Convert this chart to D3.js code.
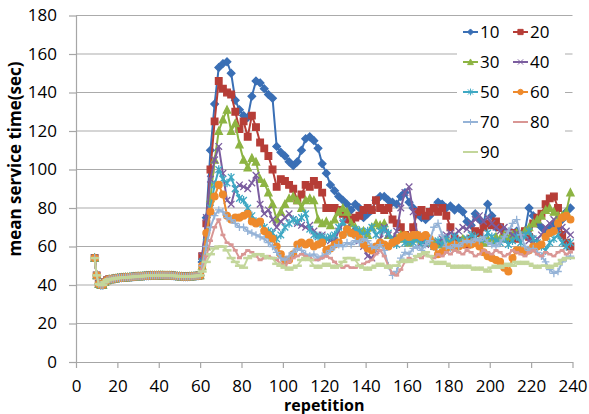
<!DOCTYPE html>
<html>
<head>
<meta charset="utf-8">
<script src="https://cdn.jsdelivr.net/npm/d3@7"></script>
<style>
  body { margin: 0; background: #fff; }
  text { font-family: "Open Sans", sans-serif; }
</style>
</head>
<body>
<div class="graph"></div>
<script>
// tick labels
const xTicks = [0, 20, 40, 60, 80, 100, 120, 140, 160, 180, 200, 220, 240]
const yTicks = [0, 20, 40, 60, 80, 100, 120, 140, 160, 180]

// reps 9..60 are the same for every series, after that every 2nd rep
const warmReps = d3.range(9, 61)
const runReps = d3.range(61, 240, 2)

const warmup = [54, 45, 40.5, 40, 40, 41.5, 42.5, 43, 43, 43.2, 43.4, 43.6, 43.7, 43.8, 43.9, 44, 44, 44.1,
  44.2, 44.3, 44.4, 44.5, 44.5, 44.6, 44.7, 44.8, 44.8, 44.9, 45, 45, 45, 45.1, 45.1, 45.1, 45, 45, 45, 44.9,
  44.8, 44.7, 44.6, 44.5, 44.4, 44.3, 44.3, 44.3, 44.4, 44.5, 44.6, 44.7, 44.8, 45]

const s10 = [52, 75, 110, 134, 153, 155, 156, 150, 136, 131,
  128, 127, 138, 146, 145, 142, 139, 137, 112, 109,
  107, 104, 102, 104, 110, 116, 117, 115, 111, 103,
  98, 92, 89, 86, 84, 82, 79, 82, 80, 75,
  77, 79, 84, 86, 86, 84, 83, 82, 86, 88,
  83, 80, 77, 75, 74, 76, 80, 83, 82, 80,
  81, 79, 80, 78, 73, 71, 77, 74, 72, 82,
  76, 70, 70, 68, 66, 67, 68, 66, 68, 80,
  76, 72, 70, 68, 70, 72, 70, 74, 78, 80]
const s20 = [55, 72, 100, 125, 146, 142, 140, 139, 130, 121,
  125, 117, 128, 122, 114, 111, 107, 100, 91, 95,
  94, 92, 90, 84, 87, 92, 91, 94, 92, 88,
  80, 80, 80, 79, 77, 74, 74, 75, 76, 79,
  80, 79, 84, 80, 79, 80, 74, 72, 70, 66,
  65, 70, 78, 79, 76, 78, 80, 78, 80, 76,
  70, 64, 62, 63, 61, 64, 68, 67, 70, 72,
  71, 73, 70, 66, 64, 67, 64, 66, 68, 65,
  72, 75, 77, 82, 85, 86, 80, 66, 62, 60]
const s30 = [50, 60, 85, 105, 120, 126, 131, 120, 124, 113,
  105, 101, 106, 104, 95, 93, 88, 82, 74, 78,
  82, 85, 86, 84, 80, 84, 85, 84, 74, 72,
  73, 71, 74, 78, 80, 78, 72, 70, 68, 68,
  66, 70, 72, 71, 72, 66, 63, 64, 66, 64,
  62, 64, 66, 63, 62, 64, 62, 61, 63, 64,
  62, 60, 62, 64, 63, 62, 64, 63, 62, 64,
  63, 65, 64, 66, 65, 66, 67, 66, 68, 70,
  72, 74, 76, 79, 80, 78, 76, 76, 78, 88]
const s40 = [55, 75, 95, 105, 112, 98, 84, 82, 90, 92,
  91, 90, 93, 97, 82, 77, 79, 74, 70, 73,
  75, 77, 74, 72, 71, 70, 71, 68, 66, 66,
  64, 63, 63, 68, 72, 70, 68, 67, 63, 60,
  55, 54, 58, 64, 70, 66, 64, 68, 80, 88,
  91, 78, 66, 62, 61, 62, 60, 62, 64, 66,
  67, 66, 68, 70, 69, 72, 74, 76, 73, 75,
  72, 70, 68, 70, 68, 66, 67, 65, 66, 63,
  62, 64, 66, 70, 72, 74, 72, 70, 68, 66]
const s50 = [52, 65, 80, 92, 100, 95, 93, 96, 90, 85,
  84, 80, 76, 73, 72, 70, 68, 67, 64, 66,
  70, 72, 74, 73, 75, 77, 69, 66, 65, 65,
  64, 65, 66, 70, 73, 68, 67, 69, 68, 66,
  68, 70, 66, 68, 69, 67, 63, 61, 64, 62,
  63, 62, 64, 61, 63, 62, 60, 63, 61, 64,
  62, 65, 63, 62, 64, 66, 65, 62, 64, 67,
  65, 63, 62, 64, 61, 63, 65, 62, 66, 68,
  64, 62, 60, 58, 62, 64, 66, 62, 60, 62]
const s60 = [50, 67, 78, 86, 92, 87, 76, 74, 75, 75,
  76, 77, 73, 72, 73, 68, 66, 64, 60, 56,
  53, 53, 56, 61, 62, 61, 62, 60, 61, 62,
  58, 59, 61, 62, 66, 69, 67, 66, 64, 61,
  59, 58, 60, 62, 61, 60, 62, 63, 65, 66,
  65, 66, 66, 65, 66, 64, 60, 56, 57, 59,
  60, 61, 60, 61, 62, 61, 62, 60, 57, 55,
  54, 53, 52, 49, 47, 54, 58, 58, 57, 58,
  60, 60, 61, 65, 67, 68, 72, 75, 76, 74]
const s70 = [50, 60, 70, 76, 79, 78, 75, 74, 72, 70,
  70, 68, 67, 66, 65, 64, 62, 60, 57, 54,
  53, 55, 57, 59, 58, 56, 55, 56, 54, 55,
  56, 58, 60, 61, 60, 62, 61, 63, 62, 64,
  63, 60, 59, 61, 58, 50, 45, 47, 54, 57,
  56, 59, 60, 58, 61, 63, 70, 72, 66, 60,
  59, 61, 60, 62, 63, 62, 64, 63, 65, 62,
  61, 60, 62, 65, 68, 72, 74, 66, 60, 58,
  59, 57, 55, 52, 48, 46, 47, 52, 54, 55]
const s80 = [48, 55, 63, 70, 74, 66, 62, 61, 58, 54,
  56, 58, 57, 55, 53, 54, 55, 54, 53, 51,
  50, 52, 54, 55, 56, 55, 54, 53, 53, 54,
  55, 54, 52, 50, 49, 50, 49, 49, 50, 51,
  52, 53, 56, 58, 55, 50, 46, 45, 48, 52,
  54, 53, 55, 54, 56, 55, 54, 56, 55, 57,
  56, 58, 57, 56, 58, 57, 55, 56, 58, 57,
  56, 58, 57, 55, 56, 58, 57, 56, 55, 57,
  58, 56, 55, 57, 56, 55, 57, 58, 56, 57]
const s90 = [47, 52, 56, 59, 60, 60, 58, 54, 52, 50,
  49, 54, 55, 56, 56, 55, 54, 54, 51, 50,
  49, 48, 49, 50, 53, 54, 53, 50, 49, 50,
  51, 50, 49, 50, 52, 54, 54, 53, 50, 49,
  48, 49, 50, 51, 50, 49, 50, 50, 52, 53,
  52, 53, 55, 56, 57, 55, 52, 51, 52, 51,
  50, 49, 50, 49, 50, 49, 48, 49, 48, 47,
  49, 50, 49, 50, 51, 50, 52, 51, 52, 51,
  50, 49, 50, 50, 49, 50, 51, 53, 54, 54]

const names = ["10", "20", "30", "40", "50", "60", "70", "80", "90"]
const colors = ["#3a6fb5", "#b63d37", "#8db443", "#7b5d9f", "#3ea8c3", "#ee8a2c", "#95b3d7", "#d99694", "#c3d69b"]
const markers = ["diamond", "square", "triangle", "x", "star", "circle", "plus", "dash", "longdash"]

const series = [s10, s20, s30, s40, s50, s60, s70, s80, s90].map((vals, i) => ({
  name: names[i],
  color: colors[i],
  marker: markers[i],
  points: warmReps.map((r, j) => [r, warmup[j]]).concat(runReps.map((r, j) => [r, vals[j]]))
}))

const w = 589
const h = 414

const svg = d3.select(".graph")
  .append("svg")
  .attr("width", w)
  .attr("height", h)
  .style("background", "#fff")

const x = d3.scaleLinear().domain([0, 240]).range([76, 572.5])
const y = d3.scaleLinear().domain([0, 180]).range([362, 15.5])

// gridlines
svg.append("g")
  .selectAll("line")
  .data(yTicks.slice(1))
  .enter()
  .append("line")
  .attr("x1", x(0))
  .attr("x2", x(240))
  .attr("y1", d => y(d))
  .attr("y2", d => y(d))
  .attr("stroke", "#ababab")
  .attr("stroke-width", 1.2)

// axes
const yAxis = svg.append("g")
  .attr("transform", `translate(${x(0)},0)`)
  .call(d3.axisLeft(y).tickValues(yTicks).tickSize(7).tickSizeOuter(0).tickPadding(12))
const xAxis = svg.append("g")
  .attr("transform", `translate(0,${y(0)})`)
  .call(d3.axisBottom(x).tickValues(xTicks).tickSize(6).tickSizeOuter(0).tickPadding(12))

;[xAxis, yAxis].forEach(a => {
  a.select(".domain").attr("stroke", "#a6a6a6").attr("stroke-width", 1.2)
  a.selectAll(".tick line").attr("stroke", "#a6a6a6").attr("stroke-width", 1.2)
  a.selectAll("text").style("font-size", "17px").attr("fill", "#000").style("font-family", "'Open Sans', sans-serif")
})

// marker shapes
function markerPath(type) {
  const r = 3.3
  switch (type) {
    case "diamond": return `M0,${-r - 0.5}L${r + 0.5},0L0,${r + 0.5}L${-r - 0.5},0Z`
    case "square": return `M${-r},${-r}H${r}V${r}H${-r}Z`
    case "triangle": return `M0,${-r - 0.5}L${r + 0.3},${r}L${-r - 0.3},${r}Z`
    case "x": return `M${-r},${-r}L${r},${r}M${-r},${r}L${r},${-r}`
    case "star": return `M${-r},${-r}L${r},${r}M${-r},${r}L${r},${-r}M0,${-r - 1}L0,${r + 1}`
    case "circle": return d3.symbol(d3.symbolCircle, 36)()
    case "plus": return `M${-r - 0.5},0H${r + 0.5}M0,${-r - 0.5}V${r + 0.5}`
    case "dash": return `M-2.5,0H2.5`
    case "longdash": return `M-4.5,0H4.5`
  }
}
const filled = ["diamond", "square", "triangle", "circle"]

const line = d3.line()
  .x(d => x(d[0]))
  .y(d => y(d[1]))

series.forEach(s => {
  const g = svg.append("g").attr("class", "series")
  g.append("path")
    .datum(s.points)
    .attr("d", line)
    .attr("fill", "none")
    .attr("stroke", s.color)
    .attr("stroke-width", 2)
    .attr("stroke-linejoin", "round")

  g.selectAll(".mk")
    .data(s.points)
    .enter()
    .append("path")
    .attr("class", "mk")
    .attr("transform", d => `translate(${x(d[0])},${y(d[1])})`)
    .attr("d", markerPath(s.marker))
    .attr("fill", filled.includes(s.marker) ? s.color : "none")
    .attr("stroke", s.color)
    .attr("stroke-width", s.marker == "dash" || s.marker == "longdash" ? 2.5 : 1.3)
})

// axis titles
svg.append("text")
  .attr("transform", "translate(21,159) rotate(-90)")
  .attr("text-anchor", "middle")
  .style("font-size", "17px")
  .style("font-weight", "bold")
  .text("mean service time(sec)")

svg.append("text")
  .attr("x", x(120))
  .attr("y", 411)
  .attr("text-anchor", "middle")
  .style("font-size", "16px")
  .style("font-weight", "bold")
  .text("repetition")

// legend, two columns
const legend = svg.append("g")
legend.append("rect")
  .attr("x", 457)
  .attr("y", 17)
  .attr("width", 108)
  .attr("height", 150)
  .attr("fill", "#fff")

const item = legend.selectAll(".item")
  .data(series)
  .enter()
  .append("g")
  .attr("class", "item")
  .attr("transform", (d, i) => `translate(${463 + (i % 2) * 50},${32 + Math.floor(i / 2) * 30})`)

item.append("line")
  .attr("x1", 0)
  .attr("x2", 15)
  .attr("stroke", d => d.color)
  .attr("stroke-width", 2)
item.append("path")
  .attr("transform", "translate(7.5,0) scale(0.8)")
  .attr("d", d => d.marker == "dash" || d.marker == "longdash" ? "" : markerPath(d.marker))
  .attr("fill", d => filled.includes(d.marker) ? d.color : "none")
  .attr("stroke", d => d.color)
  .attr("stroke-width", 1.2)
item.append("text")
  .attr("x", 17)
  .attr("dy", "0.36em")
  .style("font-size", "17px")
  .text(d => d.name)
</script>
</body>
</html>
